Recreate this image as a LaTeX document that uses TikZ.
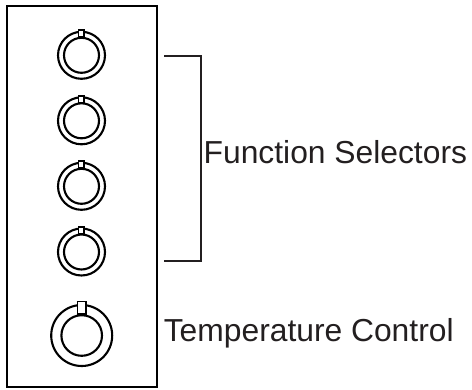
\documentclass[tikz,border=0pt]{standalone}
\usepackage{fontspec}
\setmainfont{Liberation Sans}
\definecolor{ink}{HTML}{231F20}
\begin{document}
\begin{tikzpicture}[x=1pt,y=1pt,
  panel/.style={draw=black,line width=2pt},
  ring/.style={circle,draw=black,line width=2.1pt,inner sep=0pt,fill=white},
  tab/.style={rectangle,draw=black,line width=1.6pt,fill=white,inner sep=0pt},
  bracketline/.style={draw=ink,line width=2pt},
  label/.style={anchor=base west,inner sep=0pt,text=ink,font=\fontsize{31.8}{36}\selectfont}]
\useasboundingbox (0,0) rectangle (472,-389);
\node[panel,rectangle,inner sep=0pt,minimum width=150pt,minimum height=381pt] (box) at (82,-196.5) {};
% small knobs
\foreach \i/\y in {1/55.3,2/120.8,3/186.3,4/252}{
  \node[ring,minimum size=47pt] (o\i) at (81.5,-\y) {};
  \node[ring,minimum size=35pt] (n\i) at (81.5,-\y) {};
  \node[tab,minimum width=5.6pt,minimum height=7pt] (t\i) at (81.3,-\y+21.6) {};
}
% large knob
\node[ring,minimum size=61pt] (o5) at (81.7,-335.5) {};
\node[ring,minimum size=40.6pt] (n5) at (81.7,-335.5) {};
\node[tab,minimum width=8.6pt,minimum height=12.4pt] (t5) at (81.7,-307.8) {};
% bracket
\coordinate (b1) at (164,-56);
\coordinate (b2) at (201,-56);
\coordinate (b3) at (201,-261);
\coordinate (b4) at (164,-261);
\draw[bracketline] (b1) -- (b2) -- (b3) -- (b4);
% labels
\node[label] (fs) at (203.5,-163.3) {Function Selectors};
\node[label] (tc) at (163.6,-341) {Temperature Control};
\end{tikzpicture}
\end{document}
